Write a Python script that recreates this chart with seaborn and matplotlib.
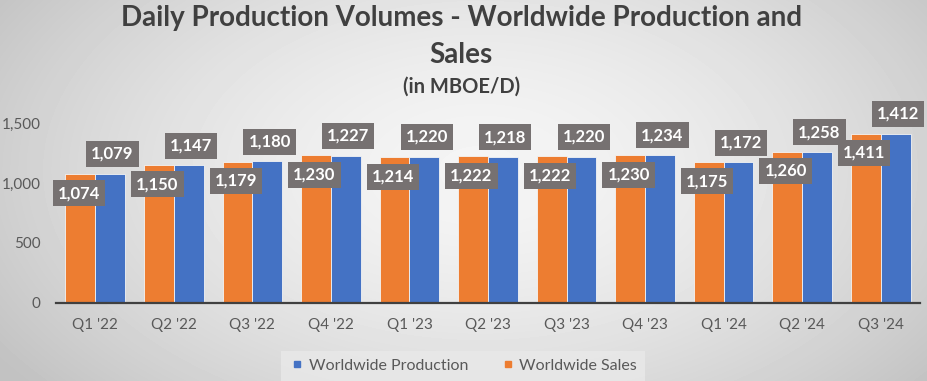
import numpy as np
import pandas as pd
import matplotlib.pyplot as plt
import seaborn as sns

quarters = ["Q1 '22", "Q2 '22", "Q3 '22", "Q4 '22", "Q1 '23", "Q2 '23",
            "Q3 '23", "Q4 '23", "Q1 '24", "Q2 '24", "Q3 '24"]
sales = [1074, 1150, 1179, 1230, 1214, 1222, 1222, 1230, 1175, 1260, 1411]
production = [1079, 1147, 1180, 1227, 1220, 1218, 1220, 1234, 1172, 1258, 1412]

df = pd.DataFrame({
    'quarter': quarters * 2,
    'series': ['Worldwide Sales'] * len(quarters) + ['Worldwide Production'] * len(quarters),
    'value': sales + production,
})

sns.set_style('white')
plt.rcParams['font.family'] = ['Lato', 'DejaVu Sans']

fig = plt.figure(figsize=(9.28, 3.81), dpi=100)

# radial grey background
yy, xx = np.mgrid[0:381, 0:928]
r = np.sqrt(((xx - 480) / 560.0) ** 2 + ((yy - 170) / 330.0) ** 2)
bg = np.clip(0.96 - 0.19 * r ** 1.6, 0.76, 0.97)
bgax = fig.add_axes([0, 0, 1, 1], zorder=-5)
bgax.imshow(bg, cmap='gray', vmin=0, vmax=1, aspect='auto')
bgax.axis('off')

ax = fig.add_axes([56 / 928, 78 / 381, 864 / 928, 192 / 381])
ax.patch.set_alpha(0)

colors = {'Worldwide Sales': '#ED7D31', 'Worldwide Production': '#4472C4'}
sns.barplot(data=df, x='quarter', y='value', hue='series',
            hue_order=['Worldwide Sales', 'Worldwide Production'],
            palette=colors, width=0.76, saturation=1, ax=ax,
            edgecolor='#f4f4f4', linewidth=0.6, legend=False)

ax.set_xlim(-0.5, 10.5)
ax.set_ylim(0, 1600)
ax.set_yticks([0, 500, 1000, 1500])
ax.set_yticklabels(['0', '500', '1,000', '1,500'])
ax.set_xlabel('')
ax.set_ylabel('')
for s in ['top', 'right', 'left']:
    ax.spines[s].set_visible(False)
ax.spines['bottom'].set_color('#404040')
ax.spines['bottom'].set_linewidth(1.6)
ax.tick_params(axis='both', length=0, labelsize=11, colors='#595959')
ax.tick_params(axis='x', pad=11)
ax.tick_params(axis='y', pad=11)

box = dict(boxstyle='square,pad=0.3', fc='#767171', ec='none')
bw = 0.38
for i in range(len(quarters)):
    ax.text(i - bw / 2 - 0.02, sales[i] - 160, f'{sales[i]:,}', ha='center', va='center',
            color='white', fontsize=12, fontweight='bold', bbox=box, zorder=5)
    ax.text(i + bw / 2 + 0.03, production[i] + 165, f'{production[i]:,}', ha='center',
            va='center', color='white', fontsize=12, fontweight='bold', bbox=box, zorder=5)

fig.text(0.497, 0.953, 'Daily Production Volumes - Worldwide Production and',
         ha='center', va='center', fontsize=20, fontweight='bold', color='#404040')
fig.text(0.497, 0.856, 'Sales', ha='center', va='center', fontsize=20,
         fontweight='bold', color='#404040')
fig.text(0.497, 0.772, '(in MBOE/D)', ha='center', va='center', fontsize=14.5,
         fontweight='bold', color='#404040')

handles = [plt.Line2D([], [], marker='s', ls='', color='#4472C4', markersize=4.5),
           plt.Line2D([], [], marker='s', ls='', color='#ED7D31', markersize=4.5)]
leg = fig.legend(handles, ['Worldwide Production', 'Worldwide Sales'],
                 loc='center', bbox_to_anchor=(0.499, 0.040), ncol=2, frameon=True,
                 fontsize=11.5, handletextpad=0.2, handlelength=1.0, columnspacing=2.0,
                 borderpad=0.5, fancybox=False)
leg.get_frame().set_facecolor('#e9e9e9')
leg.get_frame().set_edgecolor('none')
for t in leg.get_texts():
    t.set_color('#595959')

plt.savefig('out.png', dpi=100)
